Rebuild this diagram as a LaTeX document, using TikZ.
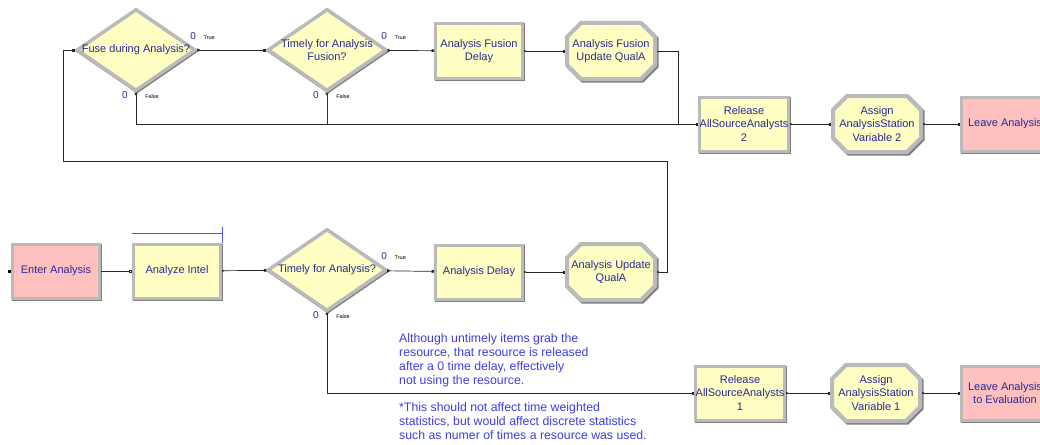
\documentclass[tikz,border=0pt]{standalone}
\usepackage{fontspec}
\setmainfont{Liberation Sans}
\usetikzlibrary{shapes.geometric, shapes.misc, arrows.meta, positioning}

\definecolor{modyellow}{RGB}{255,255,196}
\definecolor{modpink}{RGB}{255,192,192}
\definecolor{framelight}{RGB}{186,186,186}
\definecolor{framedark}{RGB}{126,126,126}
\definecolor{modtext}{RGB}{40,40,150}
\definecolor{notetext}{RGB}{60,60,235}
\definecolor{qblue}{RGB}{80,80,255}

\begin{document}
\begin{tikzpicture}[
    x=1pt, y=-1pt,
    every node/.style={font=\fontsize{11}{13.5}\selectfont},
    process/.style={rectangle, draw=framelight, fill=modyellow, line width=3pt,
        minimum width=87pt, minimum height=54pt, inner sep=0pt, align=center, text=modtext,
        preaction={draw=framedark, line width=3pt, transform canvas={xshift=1pt, yshift=-1pt}}},
    station/.style={process, fill=modpink},
    assign/.style={chamfered rectangle, chamfered rectangle xsep=7pt, chamfered rectangle ysep=7pt,
        draw=framelight, fill=modyellow, line width=4pt, inner xsep=37pt, inner ysep=21pt,
        preaction={draw=framedark, line width=4pt, transform canvas={xshift=1.5pt, yshift=-1.5pt}}},
    decide/.style={diamond, draw=framelight, fill=modyellow, line width=3.5pt,
        minimum width=119pt, minimum height=82pt, inner sep=0pt,
        preaction={draw=framedark, line width=3.5pt, transform canvas={xshift=1pt, yshift=-1pt}}},
    modlabel/.style={text=modtext, align=center, inner sep=0pt},
    count/.style={text=modtext, font=\fontsize{10}{10}\selectfont, inner sep=0pt},
    branch/.style={font=\fontsize{5.5}{6}\selectfont, inner sep=0pt},
    note/.style={text=notetext, align=left, inner sep=0pt, font=\fontsize{12.3}{14}\selectfont},
    entrypt/.style={rectangle, fill=black, minimum size=3pt, inner sep=0pt},
    conn/.style={draw=black!85, line width=0.7pt, {Circle[length=2pt]}-{Square[length=2.5pt,width=2.5pt]}},
    yes/.style={draw=black!85, line width=0.7pt, {Triangle[reversed,length=3pt,width=3.5pt]}-{Square[length=2.5pt,width=2.5pt]}},
    line/.style={draw=black!80, line width=0.7pt},
    qline/.style={draw=qblue, line width=1pt}
]
\useasboundingbox (0,0) rectangle (1040,444);
\clip (0,0) rectangle (1040,444);

% fusion branch
\node[decide, label={[modlabel]center:Fuse during Analysis?}] (fuse) at (136,50) {};
\node[decide, label={[modlabel]center:Timely for Analysis\\Fusion?}] (fusetimely) at (327,50) {};
\node[process] (fdelay) at (479,51) {Analysis Fusion\\Delay};
\node[assign, label={[modlabel]center:Analysis Fusion\\Update QualA}] (fupdate) at (611,51) {};
\node[process] (release2) at (744,124) {Release\\AllSourceAnalysts\\2};
\node[assign, label={[modlabel]center:Assign\\AnalysisStation\\Variable 2}] (assign2) at (877,124) {};
\node[station] (leave2) at (1005,124) {Leave Analysis};

% main line
\node[station] (enter) at (56,271) {Enter Analysis};
\node[entrypt, left=0pt of enter] (enterpt) {};
\node[process] (analyze) at (177,271) {Analyze Intel};
\node[decide, label={[modlabel]center:Timely for Analysis?}] (timely) at (327,270) {};
\node[process] (adelay) at (479,272) {Analysis Delay};
\node[assign, label={[modlabel]center:Analysis Update\\QualA}] (aupdate) at (611,272) {};
\node[process] (release1) at (740,393) {Release\\AllSourceAnalysts\\1};
\node[assign, label={[modlabel]center:Assign\\AnalysisStation\\Variable 1}] (assign1) at (876,393) {};
\node[station] (leave1) at (1005,393) {Leave Analysis\\to Evaluation};

% queue of Analyze Intel
\draw[qline] ([shift={(0,-9)}]analyze.north west) -- ([shift={(0,-9)}]analyze.north east);
\draw[qline] ([shift={(0,-16)}]analyze.north east) -- (analyze.north east);

% branch counters
\node[count] (fuseT) at ([shift={(-4,-14)}]fuse.east) {0};
\node[branch] (fuseTl) at ([shift={(12,-12)}]fuse.east) {True};
\node[count] (fuseF) at ([shift={(-11,2)}]fuse.south) {0};
\node[branch] (fuseFl) at ([shift={(16,4)}]fuse.south) {False};
\node[count] (fusetimelyT) at ([shift={(-4,-14)}]fusetimely.east) {0};
\node[branch] (fusetimelyTl) at ([shift={(12,-12)}]fusetimely.east) {True};
\node[count] (fusetimelyF) at ([shift={(-11,2)}]fusetimely.south) {0};
\node[branch] (fusetimelyFl) at ([shift={(16,4)}]fusetimely.south) {False};
\node[count] (timelyT) at ([shift={(-4,-14)}]timely.east) {0};
\node[branch] (timelyTl) at ([shift={(12,-12)}]timely.east) {True};
\node[count] (timelyF) at ([shift={(-11,2)}]timely.south) {0};
\node[branch] (timelyFl) at ([shift={(16,4)}]timely.south) {False};

% notes
\node[note, anchor=north west] (untimely) at (399,333) {Although untimely items grab the\\resource, that resource is released\\after a 0 time delay, effectively\\not using the resource.};
\node[note, anchor=north west] (stats) at (399,402) {*This should not affect time weighted\\statistics, but would affect discrete statistics\\such as numer of times a resource was used.};

% connectors
\coordinate (loopR) at (667,161);
\coordinate (loopL) at (63,161);
\coordinate (joinF) at (678,124);
\draw[conn, -{Square[open,length=3pt,width=3pt]}] (enter) -- (analyze);
\draw[conn] (analyze) -- (timely);
\draw[yes] (timely) -- (adelay);
\draw[conn] (adelay) -- (aupdate);
\draw[conn] (aupdate.east) -| (loopR) -- (loopL) |- (fuse.west);
\draw[yes] (fuse) -- (fusetimely);
\draw[yes] (fusetimely) -- (fdelay);
\draw[conn] (fdelay) -- (fupdate);
\draw[conn, -] (fupdate.east) -| (joinF);
\draw[yes] (fuse.south) |- (release2.west);
\draw[line, {Triangle[reversed,length=3pt,width=3.5pt]}-] (fusetimely.south) -- (fusetimely.south |- release2.west);
\draw[conn] (release2) -- (assign2);
\draw[conn] (assign2) -- (leave2);
\draw[yes] (timely.south) |- (release1.west);
\draw[conn] (release1) -- (assign1);
\draw[conn] (assign1) -- (leave1);
\end{tikzpicture}
\end{document}
